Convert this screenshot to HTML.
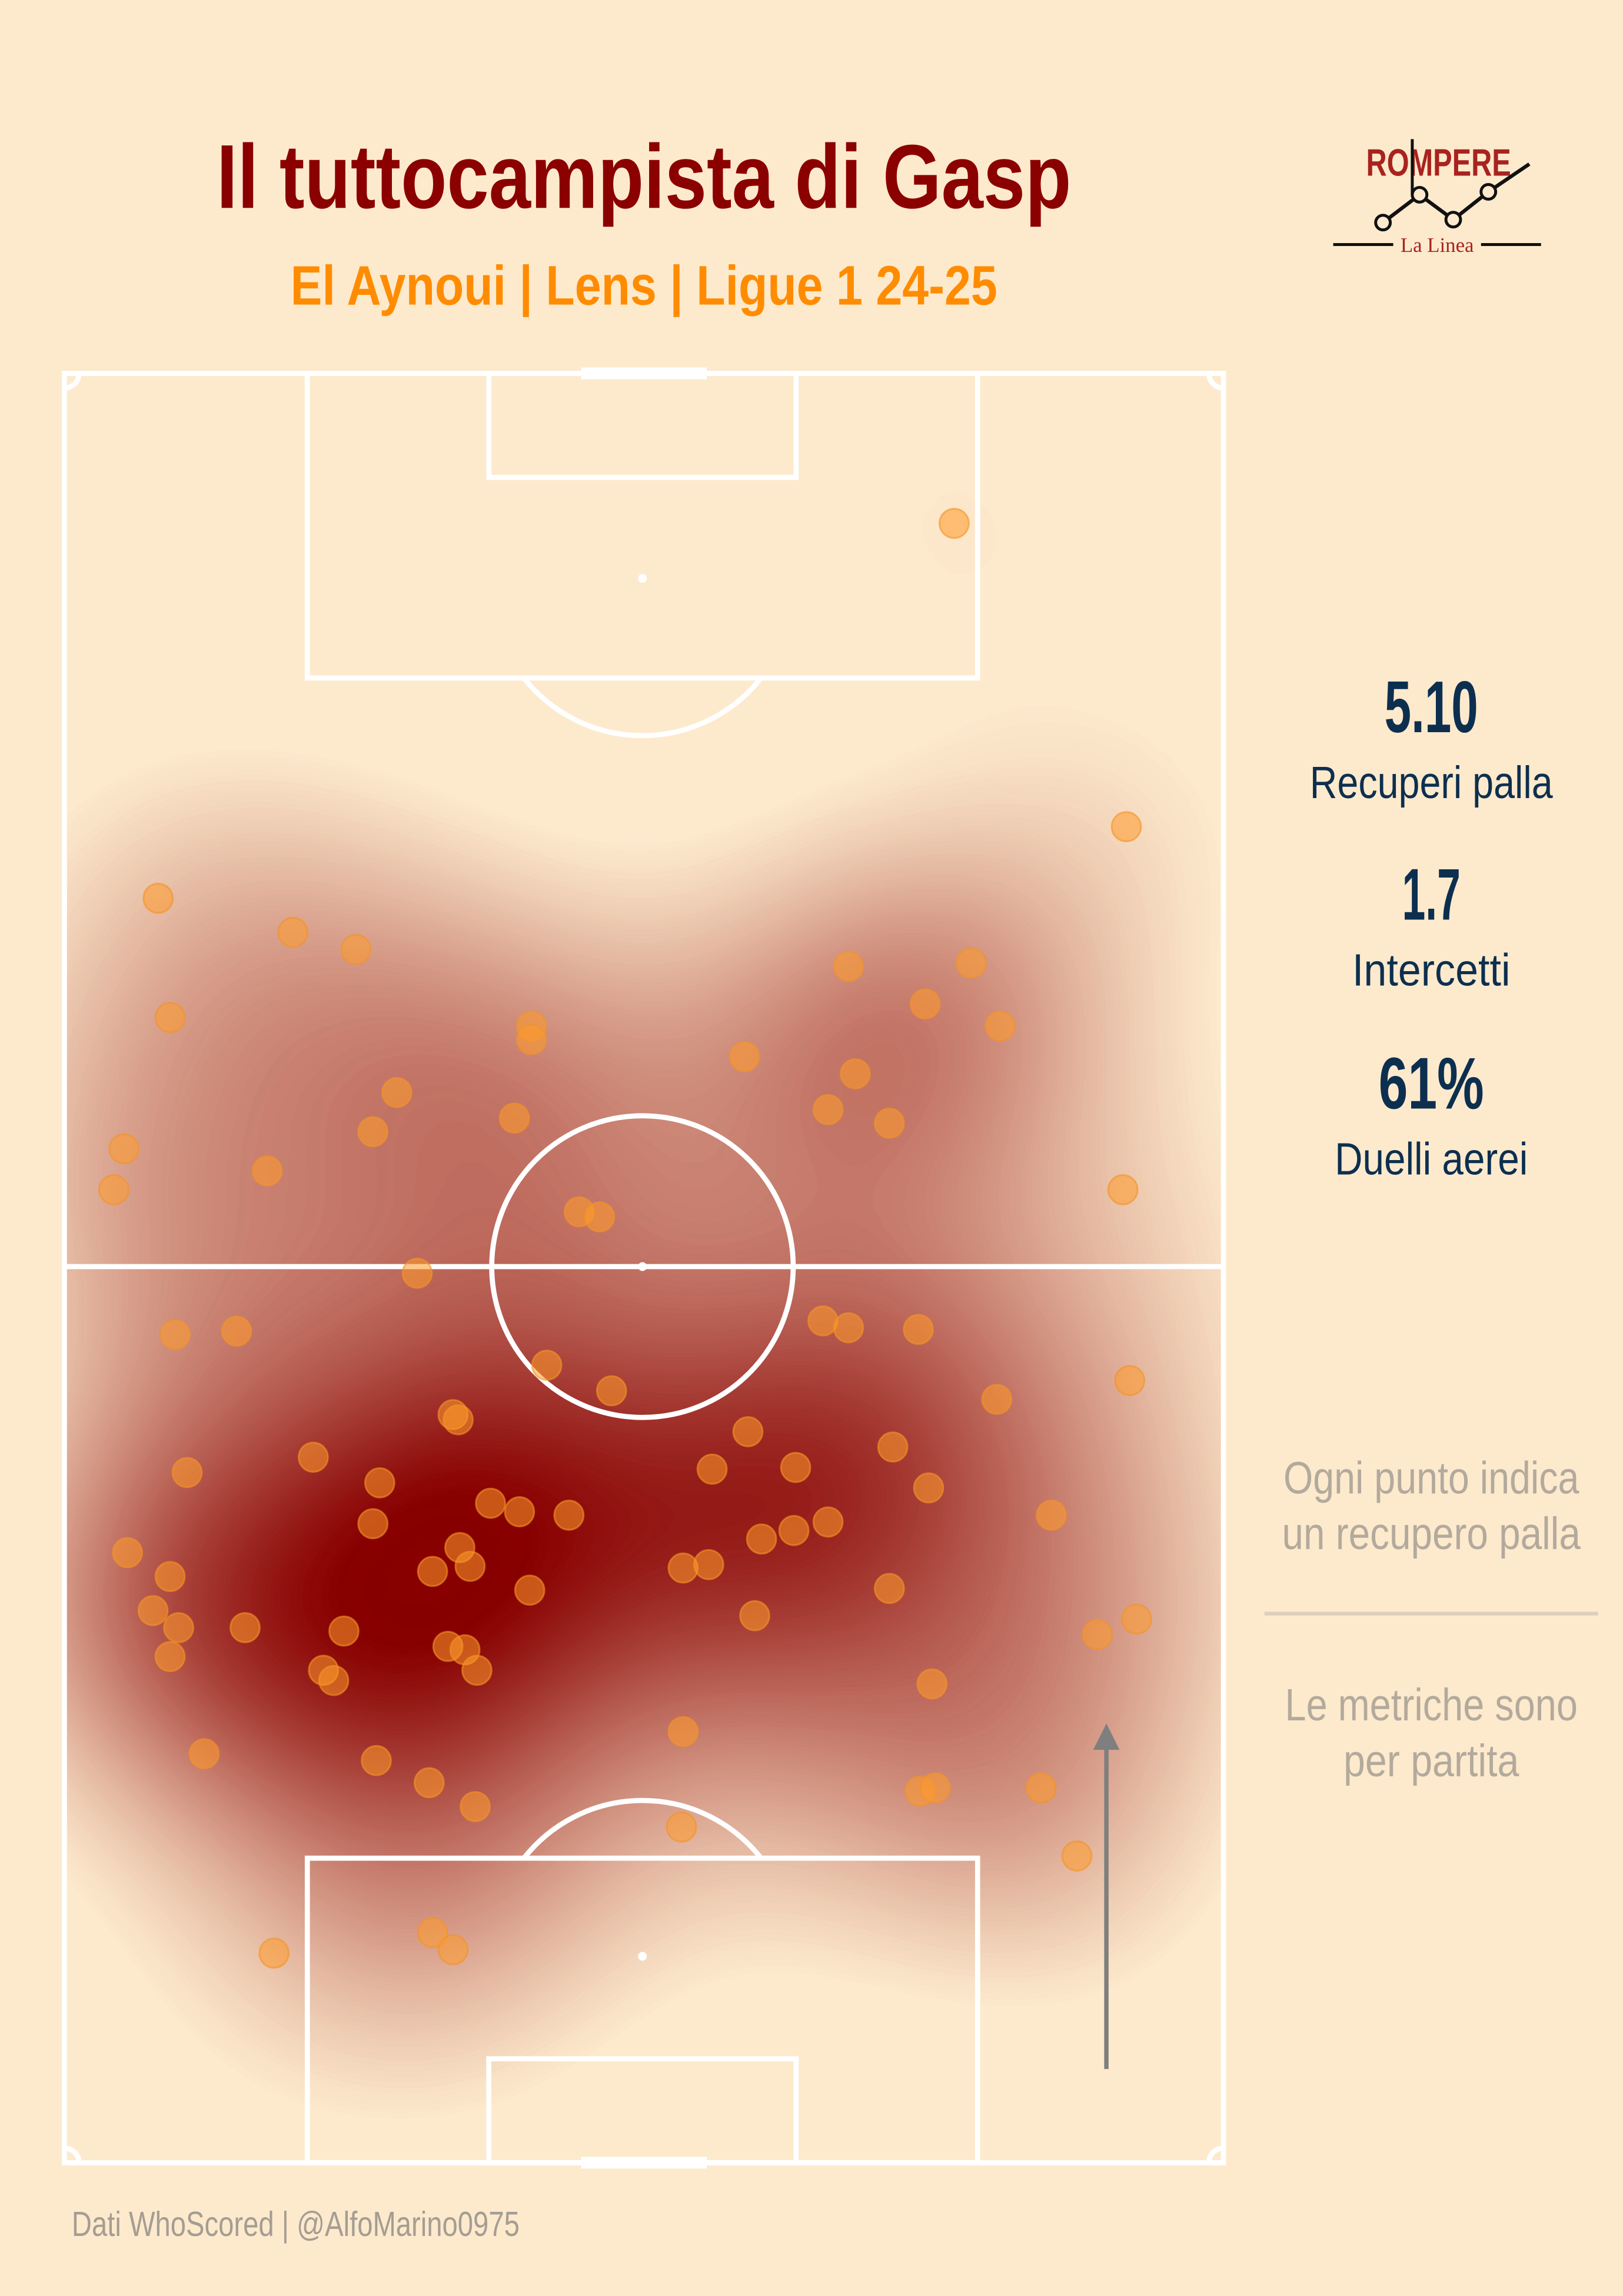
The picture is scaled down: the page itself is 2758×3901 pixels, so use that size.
<!DOCTYPE html>
<html><head><meta charset="utf-8">
<style>
html,body{margin:0;padding:0;background:#fdeacd;}
svg{display:block;}
text{font-family:"Liberation Sans",sans-serif;}
</style></head>
<body>
<svg id="chart" width="2758" height="3901" viewBox="0 0 1109 1568" preserveAspectRatio="none" xmlns="http://www.w3.org/2000/svg">
<defs>
<filter id="blur" x="-50%" y="-50%" width="200%" height="200%">
<feGaussianBlur stdDeviation="75"/>
<feComponentTransfer><feFuncA type="linear" slope="2.2" intercept="-0.1"/></feComponentTransfer>
</filter>
<clipPath id="pitchClip"><rect x="44" y="255" width="792" height="1222"/></clipPath>
<marker id="arrowhead" markerWidth="6" markerHeight="6" refX="3" refY="3" orient="auto"><path d="M0,0 L6,3 L0,6 Z" fill="#7f7f7f"/></marker>
</defs>
<rect x="0" y="0" width="1109" height="1568" fill="#fdeacd"/>

<text x="440" y="142" text-anchor="middle" font-size="62" font-weight="bold" fill="#8b0000" textLength="584" lengthAdjust="spacingAndGlyphs">Il tuttocampista di Gasp</text>
<text x="440" y="208" text-anchor="middle" font-size="38" font-weight="bold" fill="#ff8c00" textLength="483" lengthAdjust="spacingAndGlyphs">El Aynoui  |  Lens  |  Ligue 1 24-25</text>

<g>
<text x="983" y="120" text-anchor="middle" font-size="26" font-weight="bold" fill="#a8231f" textLength="99" lengthAdjust="spacingAndGlyphs">ROMPERE</text>
<polyline points="945,152 970,133 993,150 1017,131 1045,112" fill="none" stroke="#111" stroke-width="2.5"/>
<line x1="965" y1="95" x2="965" y2="133" stroke="#111" stroke-width="2"/>
<circle cx="945" cy="152" r="5" fill="#fdeacd" stroke="#111" stroke-width="2"/>
<circle cx="970" cy="133" r="5" fill="#fdeacd" stroke="#111" stroke-width="2"/>
<circle cx="993" cy="150" r="5" fill="#fdeacd" stroke="#111" stroke-width="2"/>
<circle cx="1017" cy="131" r="5" fill="#fdeacd" stroke="#111" stroke-width="2"/>
<line x1="911" y1="167" x2="952" y2="167" stroke="#111" stroke-width="2"/>
<line x1="1012" y1="167" x2="1053" y2="167" stroke="#111" stroke-width="2"/>
<text x="982" y="172" text-anchor="middle" font-size="14" fill="#a8231f" style="font-family:'Liberation Serif',serif">La Linea</text>
</g>

<g id="heat" clip-path="url(#pitchClip)"><g id="heatInner" filter="url(#blur)"></g></g>

<g fill="none" stroke="#ffffff" stroke-width="3.5">
<rect x="44" y="255" width="792" height="1222"/>
<line x1="44" y1="865" x2="836" y2="865"/>
<circle cx="439" cy="865" r="103"/>
<rect x="210" y="255" width="458" height="208"/>
<rect x="334" y="255" width="210" height="71"/>
<rect x="210" y="1269" width="458" height="208"/>
<rect x="334" y="1406" width="210" height="71"/>
<path d="M358,463 A103,103 0 0 0 520,463"/>
<path d="M358,1269 A103,103 0 0 1 520,1269"/>
<line x1="397" y1="255" x2="483" y2="255" stroke-width="8"/>
<line x1="397" y1="1477" x2="483" y2="1477" stroke-width="8"/>
<path d="M44,265 A10,10 0 0 0 54,255"/>
<path d="M826,255 A10,10 0 0 0 836,265"/>
<path d="M44,1467 A10,10 0 0 1 54,1477"/>
<path d="M826,1477 A10,10 0 0 1 836,1467"/>
</g>
<g fill="#ffffff">
<circle cx="439" cy="395" r="3"/><circle cx="439" cy="865" r="3"/><circle cx="439" cy="1336" r="3"/>
</g>

<g id="points"></g>

<line x1="756" y1="1413" x2="756" y2="1186" stroke="#7f7f7f" stroke-width="3" marker-end="url(#arrowhead)"/>

<g text-anchor="middle" fill="#0d2f4f" font-weight="bold">
<text x="978" y="500" font-size="50" textLength="64" lengthAdjust="spacingAndGlyphs">5.10</text>
<text x="978" y="545" font-size="31" font-weight="normal" textLength="166" lengthAdjust="spacingAndGlyphs">Recuperi palla</text>
<text x="978" y="628" font-size="50" textLength="40" lengthAdjust="spacingAndGlyphs">1.7</text>
<text x="978" y="673" font-size="31" font-weight="normal" textLength="108" lengthAdjust="spacingAndGlyphs">Intercetti</text>
<text x="978" y="757" font-size="50" textLength="72" lengthAdjust="spacingAndGlyphs">61%</text>
<text x="978" y="802" font-size="31" font-weight="normal" textLength="132" lengthAdjust="spacingAndGlyphs">Duelli aerei</text>
</g>
<g text-anchor="middle" fill="#b3aa9d" font-size="31">
<text x="978" y="1020" textLength="202" lengthAdjust="spacingAndGlyphs">Ogni punto indica</text>
<text x="978" y="1058" textLength="204" lengthAdjust="spacingAndGlyphs">un recupero palla</text>
<line x1="864" y1="1102" x2="1092" y2="1102" stroke="#dccfbd" stroke-width="2.5"/>
<text x="978" y="1175" textLength="200" lengthAdjust="spacingAndGlyphs">Le metriche sono</text>
<text x="978" y="1213" textLength="120" lengthAdjust="spacingAndGlyphs">per partita</text>
</g>
<text x="49" y="1527" font-size="24" fill="#a59d92" textLength="306" lengthAdjust="spacingAndGlyphs">Dati WhoScored  |  @AlfoMarino0975</text>
</svg>
<script>
// Recovery locations in metres: x across pitch width (0-68), y along length from own goal (0-105)
const recoveryX = [52.2,62.3,5.5,13.4,17.1,46.0,53.2,6.2,50.5,54.9,27.4,27.4,39.9,46.4,19.5,44.8,26.4,48.4,18.1,3.5,11.9,2.9,62.1,30.2,31.4,20.7,6.5,10.1,44.5,46.0,50.1,28.3,32.1,62.5,54.7,22.8,23.1,40.1,14.6,48.6,38.0,42.9,7.2,18.5,50.7,25.0,26.7,29.6,18.1,44.8,57.9,42.8,40.9,3.7,23.2,23.8,21.6,36.3,37.8,6.2,27.3,48.4,5.2,6.7,10.6,16.4,40.5,62.9,60.6,22.5,23.5,6.2,24.2,15.2,15.8,50.9,36.3,8.2,18.3,21.4,50.2,51.1,57.3,24.1,36.2,59.4,21.6,22.8,12.3];
const recoveryY = [96.2,78.4,74.2,72.2,71.2,70.2,70.4,67.2,68.0,66.7,66.7,65.9,64.9,63.9,62.8,61.8,61.3,61.0,60.5,59.5,58.2,57.1,57.1,55.8,55.5,52.2,48.6,48.8,49.4,49.0,48.9,46.8,45.3,45.9,44.8,43.9,43.6,42.9,41.4,42.0,40.7,40.8,40.5,39.9,39.6,38.7,38.2,38.0,37.5,37.6,38.0,37.1,36.6,35.8,36.1,35.0,34.7,34.9,35.1,34.4,33.6,33.7,32.4,31.4,31.4,31.2,32.1,31.9,31.0,30.3,30.1,29.7,28.9,28.9,28.3,28.1,25.3,24.0,23.6,22.3,21.8,22.0,22.0,20.9,19.7,18.0,13.5,12.5,12.3];
const PITCH_W = 68, PITCH_L = 105;
const x0 = 44, x1 = 836, yTop = 255, yBot = 1477;
function sx(v){ return x0 + v / PITCH_W * (x1 - x0); }
function sy(v){ return yBot - v / PITCH_L * (yBot - yTop); }
const NS = "http://www.w3.org/2000/svg";
const heat = document.getElementById('heatInner');
const pts = document.getElementById('points');
for (let i = 0; i < recoveryX.length; i++) {
  const h = document.createElementNS(NS, 'circle');
  h.setAttribute('cx', sx(recoveryX[i]));
  h.setAttribute('cy', sy(recoveryY[i]));
  h.setAttribute('r', 85);
  h.setAttribute('fill', '#8b0000');
  h.setAttribute('fill-opacity', 0.1);
  
  
  heat.appendChild(h);
}
for (let i = 0; i < recoveryX.length; i++) {
  const c = document.createElementNS(NS, 'circle');
  c.setAttribute('cx', sx(recoveryX[i]));
  c.setAttribute('cy', sy(recoveryY[i]));
  c.setAttribute('r', 10);
  c.setAttribute('fill', '#ff9a2a');
  c.setAttribute('fill-opacity', 0.55);
  c.setAttribute('stroke', '#f39224');
  c.setAttribute('stroke-opacity', 0.6);
  c.setAttribute('stroke-width', 1.2);
  
  
  pts.appendChild(c);
}
</script>
</body></html>
